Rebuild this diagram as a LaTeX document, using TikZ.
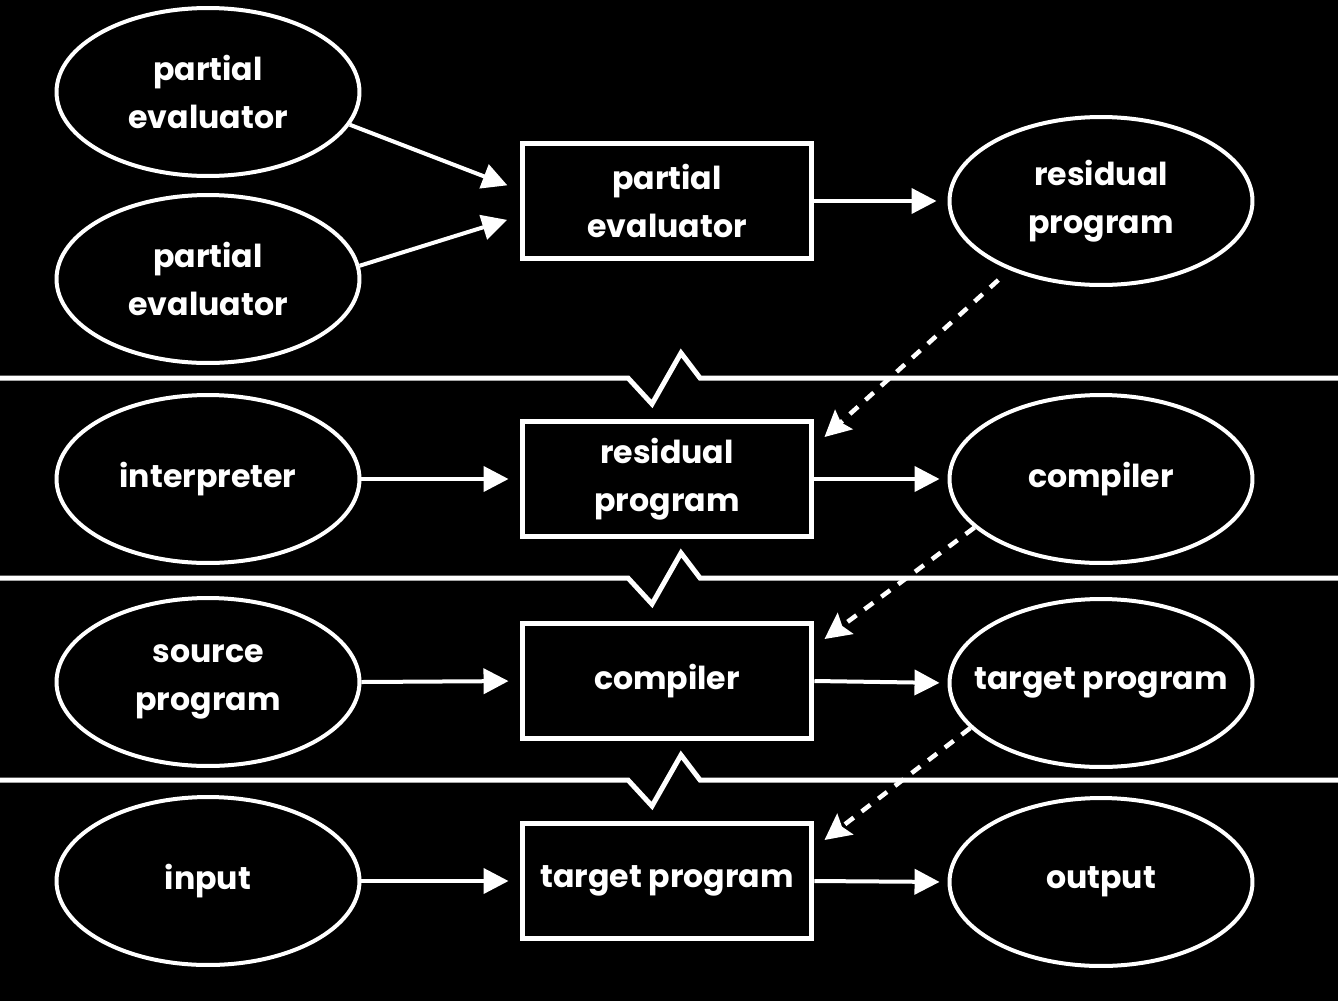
\documentclass[tikz,border=0pt]{standalone}
\usepackage{fontspec}
\setmainfont{Poppins}
\usetikzlibrary{shapes.geometric,arrows.meta}
\tikzset{
  lbl/.style={text=white, align=center, inner sep=0pt, font=\fontsize{18}{27}\selectfont\bfseries},
  ell/.style={lbl, ellipse, draw=white, line width=0.08cm, minimum width=6.06cm, minimum height=3.36cm},
  procbox/.style={lbl, rectangle, draw=white, line width=0.1cm, minimum width=5.8cm, minimum height=2.3cm},
  arr/.style={draw=white, line width=0.08cm, -{Triangle[length=0.5cm,width=0.5cm]}},
  darr/.style={draw=white, line width=0.09cm, dash pattern=on 0.22cm off 0.2cm, -{Stealth[length=0.52cm,width=0.52cm,inset=0.08cm]}},
  sepline/.style={draw=white, line width=0.1cm}
}
\begin{document}
\begin{tikzpicture}[x=0.02cm,y=-0.02cm]
\useasboundingbox[fill=black] (0,0) rectangle (1338,1001);
% separators
\foreach \yy in {378,578,780}{
  \draw[sepline] (-5,\yy) -- (628,\yy) -- (652,\yy+26) -- (681,\yy-25) -- (700,\yy) -- (1343,\yy);
}
% row 1
\node[ell] (pe1) at (208,92) {partial\\evaluator};
\node[ell] (pe2) at (208,279) {partial\\evaluator};
\node[procbox] (b1) at (667,201) {partial\\evaluator};
\node[ell] (rp) at (1101,201) {residual\\program};
% row 2
\node[ell] (interp) at (208,479) {interpreter};
\node[procbox] (b2) at (667,479) {residual\\program};
\node[ell] (cmp) at (1101,479) {compiler};
% row 3
\node[ell] (src) at (208,682) {source\\program};
\node[procbox] (b3) at (667,681) {compiler};
\node[ell] (tp) at (1101,683) {\makebox[0pt]{target program}};
% row 4
\node[ell] (inp) at (208,881) {input};
\node[procbox] (b4) at (667,881) {\makebox[0pt]{target program}};
\node[ell] (out) at (1101,882) {output};
% solid arrows
\draw[arr, shorten >=0.26cm] (pe1.-13) -- ([yshift=0.22cm]b1.west);
\draw[arr, shorten >=0.26cm] (pe2.5) -- ([yshift=-0.3cm]b1.west);
\draw[arr, shorten >=0.22cm] (b1.east) -- (rp.west);
\draw[arr, shorten >=0.22cm] (interp.east) -- (b2.west);
\draw[arr, shorten >=0.16cm] (b2.east) -- (cmp.west);
\draw[arr, shorten >=0.22cm] (src.east) -- (b3.west);
\draw[arr, shorten >=0.16cm] (b3.east) -- (tp.west);
\draw[arr, shorten >=0.22cm] (inp.east) -- (b4.west);
\draw[arr, shorten >=0.16cm] (b4.east) -- (out.west);
% dashed arrows
\draw[darr, shorten <=0.3cm] (rp.217) -- ([xshift=0.2cm,yshift=-0.36cm]b2.north east);
\draw[darr] (cmp.201) -- ([xshift=0.2cm,yshift=-0.36cm]b3.north east);
\draw[darr] (tp.199) -- ([xshift=0.2cm,yshift=-0.38cm]b4.north east);
\end{tikzpicture}
\end{document}
